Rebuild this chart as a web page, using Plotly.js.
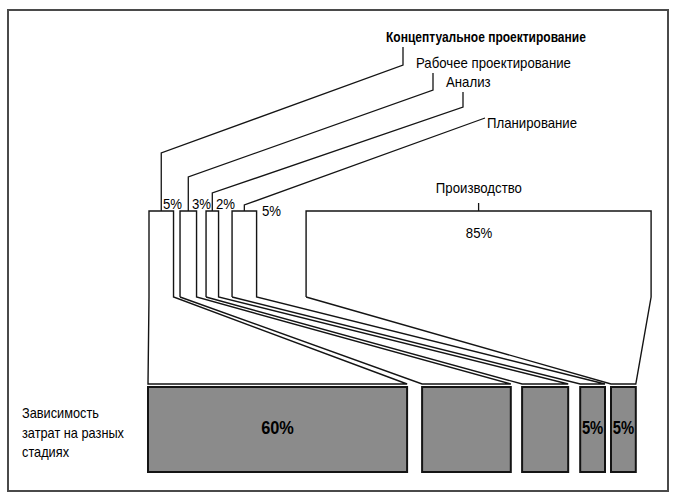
<!DOCTYPE html>
<html><head><meta charset="utf-8">
<script src="https://cdn.plot.ly/plotly-3.0.1.min.js"></script>
<style>html,body{margin:0;padding:0;background:#fff}</style>
</head><body><div id="chart" style="width:677px;height:499px"></div>
<script>
// ---------- DATA ----------
const stages = ['Концептуальное проектирование','Рабочее проектирование','Анализ','Планирование','Производство'];
const stageShare = [5, 3, 2, 5, 85];        // доля стадии (верхний ряд), %
const costShare  = [60, 20, 10, 5, 5];       // доля затрат, определяемых стадией (нижний ряд), %
const costLabels = ['60%', '', '', '5%', '5%'];
const sideLabel  = ['Зависимость', 'затрат на разных', 'стадиях'];

// ---------- LAYOUT CONSTANTS (axis units = pixels) ----------
const W = 677, H = 499;
const FONT = '"Liberation Sans", Arial, sans-serif';
const INK = '#141414';
const CONDENSE = 0.88;                      // horizontal condensing of all text (narrow typeface look)
const TOP = {x0: 149, k: 4.006, pad: 4.5, gaps: [6.5, 9.5, 13.5, 49.5], y: 211, neck: 297};
const BOT = {x0: 148, k: 4.26, pad: 3.5, gaps: [15, 11.3, 12, 6], y0: 387, y1: 472, end: 384};
const LEAD = {elbowY: [153, 177, 193, 205], endX: [403, 433, 463, 485], endY: [65, 90, 107, 118],
              tickTop: [47, 73, 92, null], pctDx: [0, 2, 2, 16], pctY: [203, 203, 203, 210]};

// ---------- GEOMETRY from data ----------
function rowEdges(shares, cfg) {
  const out = []; let x = cfg.x0;
  shares.forEach((s, i) => { const w = s * cfg.k + cfg.pad; out.push([x, x + w]); x += w + (cfg.gaps[i] || 0); });
  return out;
}
const topBoxes = rowEdges(stageShare, TOP);
const botBoxes = rowEdges(costShare, BOT);

const traces = [];
const annotations = [];
const shapes = [];
const squeeze = {};   // text -> condense factor override

// bottom boxes as bars
traces.push({
  type: 'bar', x: botBoxes.map(b => (b[0] + b[1]) / 2), width: botBoxes.map(b => b[1] - b[0]),
  y: costShare.map(() => BOT.y1 - BOT.y0), base: BOT.y0,
  marker: {color: '#8b8b8b', line: {color: INK, width: 2}}, hoverinfo: 'skip'
});
traces.push({
  type: 'scatter', mode: 'text', x: botBoxes.map(b => (b[0] + b[1]) / 2),
  y: costShare.map(() => (BOT.y0 + BOT.y1) / 2), text: costLabels,
  textfont: {family: FONT, size: 19, color: '#000', weight: 700}, hoverinfo: 'skip'
});
squeeze['5%b'] = 0.78; squeeze['60%b'] = 0.86;

// funnels
const fx = [], fy = [];
topBoxes.forEach((t, i) => {
  const b = botBoxes[i];
  fx.push(t[0], t[0], t[1], t[1], b[1], b[0], t[0], null);
  fy.push(TOP.neck, TOP.y, TOP.y, TOP.neck, BOT.end, BOT.end, TOP.neck, null);
});
traces.push({type: 'scatter', mode: 'lines', x: fx, y: fy, line: {color: INK, width: 1.4}, hoverinfo: 'skip'});

// leaders for first four stages
const lx = [], ly = [];
for (let i = 0; i < 4; i++) {
  const c = (topBoxes[i][0] + topBoxes[i][1]) / 2;
  lx.push(c, c, LEAD.endX[i]); ly.push(TOP.y, LEAD.elbowY[i], LEAD.endY[i]);
  if (LEAD.tickTop[i] !== null) { lx.push(LEAD.endX[i]); ly.push(LEAD.tickTop[i]); }
  lx.push(null); ly.push(null);
  annotations.push({x: c + LEAD.pctDx[i], y: LEAD.pctY[i], text: stageShare[i] + '%', xanchor: 'left', align: 'left',
    yanchor: 'middle', showarrow: false, font: {family: FONT, size: 15, color: '#000'}});
  if (LEAD.tickTop[i] !== null) {
    annotations.push({x: LEAD.endX[i] - 19, y: LEAD.tickTop[i] - 11, text: stages[i], xanchor: 'left', align: 'left',
      yanchor: 'middle', showarrow: false, font: {family: FONT, size: 15, color: '#000', weight: i === 0 ? 700 : 400}});
  } else {
    annotations.push({x: LEAD.endX[i], y: LEAD.endY[i] + 4, text: stages[i], xanchor: 'left', align: 'left',
      yanchor: 'middle', showarrow: false, font: {family: FONT, size: 15, color: '#000'}});
  }
}
squeeze[stages[0]] = 0.8;
// production stage
const c5 = (topBoxes[4][0] + topBoxes[4][1]) / 2;
lx.push(c5, c5); ly.push(TOP.y, TOP.y - 8);
traces.push({type: 'scatter', mode: 'lines', x: lx, y: ly, line: {color: INK, width: 1.3}, hoverinfo: 'skip'});
annotations.push({x: c5, y: 187, text: stages[4], xanchor: 'center', yanchor: 'middle', showarrow: false,
  font: {family: FONT, size: 15, color: '#000'}});
annotations.push({x: c5, y: 232, text: stageShare[4] + '%', xanchor: 'center', yanchor: 'middle', showarrow: false,
  font: {family: FONT, size: 15, color: '#000'}});

// side label
sideLabel.forEach((s, i) => annotations.push({x: 20, y: 413 + i * 19.5, text: s, xanchor: 'left', align: 'left',
  yanchor: 'middle', showarrow: false, font: {family: FONT, size: 14.5, color: '#000'}}));

// outer frame
shapes.push({type: 'rect', xref: 'x', yref: 'y', x0: 8, y0: 10, x1: 668, y1: 491, line: {color: '#4a4a4a', width: 2}});

const layout = {
  width: W, height: H, margin: {l: 0, r: 0, t: 0, b: 0},
  paper_bgcolor: '#fff', plot_bgcolor: '#fff', showlegend: false,
  xaxis: {range: [0, W], visible: false, fixedrange: true},
  yaxis: {range: [H, 0], visible: false, fixedrange: true},
  barmode: 'overlay', annotations, shapes
};
Plotly.newPlot('chart', traces, layout, {displayModeBar: false, staticPlot: true}).then(gd => {
  // narrow-typeface look: condense each text horizontally (stays real SVG text)
  gd.querySelectorAll('text.annotation-text').forEach(t => {
    const f = squeeze[t.textContent] || CONDENSE;
    const L = t.getComputedTextLength();
    if (L > 0) { t.setAttribute('textLength', (L * f).toFixed(2)); t.setAttribute('lengthAdjust', 'spacingAndGlyphs'); }
  });
  gd.querySelectorAll('g.textpoint text').forEach(t => {
    const f = squeeze[t.textContent + 'b'] || CONDENSE;
    const L = t.getComputedTextLength();
    if (L > 0) { t.setAttribute('textLength', (L * f).toFixed(2)); t.setAttribute('lengthAdjust', 'spacingAndGlyphs'); }
  });
});
</script></body></html>
